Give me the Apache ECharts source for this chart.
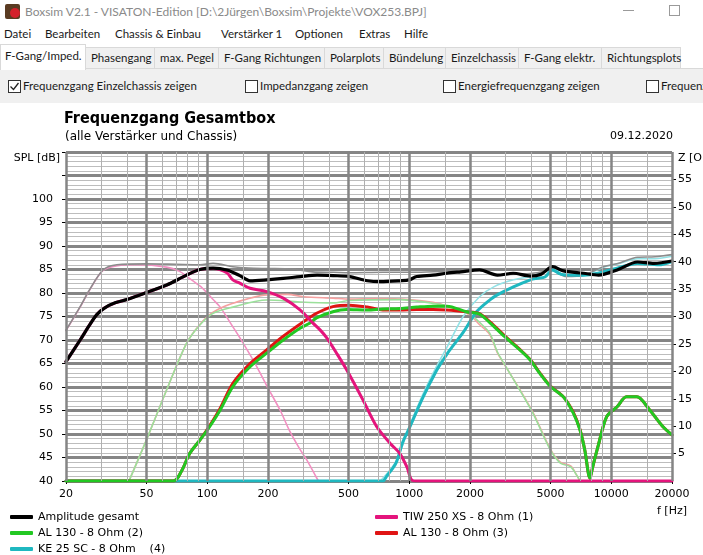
<!DOCTYPE html>
<html><head><meta charset="utf-8">
<script src="https://cdn.jsdelivr.net/npm/echarts@6/dist/echarts.min.js"></script>
<style>
html,body{margin:0;padding:0;width:703px;height:555px;overflow:hidden;background:#fff;}
.a{position:absolute;white-space:nowrap;font-family:Lato,"Noto Sans",sans-serif;font-size:11.5px;color:#1a1a1a;}
.tab{position:absolute;top:47px;height:22px;box-sizing:border-box;background:#f0f0f0;border:1px solid #d9d9d9;border-bottom:none;line-height:20px;padding-left:5px;font-family:Lato,"Noto Sans",sans-serif;font-size:11.5px;color:#1a1a1a;white-space:nowrap;}
.cb{position:absolute;top:80px;width:13px;height:13px;box-sizing:border-box;border:1px solid #333;background:#fff;}
</style></head><body>
<!-- title bar -->
<div class="a" style="left:5px;top:4px;width:15px;height:15px;background:#5a3b22;border-radius:2px;"></div>
<div class="a" style="left:10px;top:8px;width:10px;height:10px;background:#d4202a;border-radius:50%;"></div>
<div class="a" style="left:25px;top:4px;color:#8a8a8a;font-size:12px;">Boxsim V2.1 - VISATON-Edition [D:\2Jürgen\Boxsim\Projekte\VOX253.BPJ]</div>
<div class="a" style="left:623px;top:10px;width:11px;height:1px;background:#9a9a9a;"></div>
<div class="a" style="left:669px;top:5px;width:9px;height:9px;border:1px solid #9a9a9a;"></div>
<!-- menu -->
<div class="a" style="left:4px;top:27px;">Datei</div>
<div class="a" style="left:45px;top:27px;">Bearbeiten</div>
<div class="a" style="left:115px;top:27px;">Chassis &amp; Einbau</div>
<div class="a" style="left:221px;top:27px;">Verstärker 1</div>
<div class="a" style="left:295px;top:27px;">Optionen</div>
<div class="a" style="left:359px;top:27px;">Extras</div>
<div class="a" style="left:404px;top:27px;">Hilfe</div>
<!-- tabs -->
<div class="tab" style="left:85px;width:70px;">Phasengang</div>
<div class="tab" style="left:154px;width:65px;">max. Pegel</div>
<div class="tab" style="left:218px;width:107px;">F-Gang Richtungen</div>
<div class="tab" style="left:324px;width:60px;">Polarplots</div>
<div class="tab" style="left:383px;width:63px;">Bündelung</div>
<div class="tab" style="left:445px;width:74px;">Einzelchassis</div>
<div class="tab" style="left:518px;width:84px;">F-Gang elektr.</div>
<div class="tab" style="left:601px;width:80px;">Richtungsplots</div>
<!-- panel -->
<div class="a" style="left:0;top:68px;width:703px;height:34px;background:#f0f0f0;border-top:1px solid #d9d9d9;border-bottom:1px solid #e2e2e2;"></div>
<div class="tab" style="left:0;top:44px;width:86px;height:26px;background:#fff;line-height:22px;padding-left:4px;">F-Gang/Imped.</div>
<div class="cb" style="left:8px;"><svg width="11" height="11" style="position:absolute;left:0;top:0"><polyline points="1.5,5.5 4.5,8.5 9.5,2" fill="none" stroke="#222" stroke-width="1.3"/></svg></div>
<div class="a" style="left:23px;top:79px;">Frequenzgang Einzelchassis zeigen</div>
<div class="cb" style="left:245px;"></div>
<div class="a" style="left:260px;top:79px;">Impedanzgang zeigen</div>
<div class="cb" style="left:443px;"></div>
<div class="a" style="left:458px;top:79px;">Energiefrequenzgang zeigen</div>
<div class="cb" style="left:646px;"></div>
<div class="a" style="left:661px;top:79px;">Frequenzgang</div>

<div id="chart" style="position:absolute;left:0;top:103px;width:703px;height:480px;background:#fff;"></div>
<script>
// ---- axis ticks / grid ----
const xTicks = [20, 50, 100, 200, 500, 1000, 2000, 5000, 10000, 20000];
const xMajorGrid = [20, 50, 100, 200, 500, 1000, 2000, 5000, 10000, 20000];
const xMinorGrid = [30, 40, 60, 70, 80, 90, 150, 300, 400, 600, 700, 800, 900, 1500, 3000, 4000, 6000, 7000, 8000, 9000, 15000];
const zTicks = [5, 10, 15, 20, 25, 30, 35, 40, 45, 50, 55];

// ---- Amplitude gesamt ----
const totalF  = [20,23.5,26,28.4,31,35,40,50,63,79,92,107,125,145,163,197,238,290,350,420,507,620,720,900,1000,1090,1310,1540,1800,2230,2730,3270,3980,4500,5130,5800,7300,8660,10700,13500,16300,20000];
const totalDb = [65.4,70.0,73.0,75.4,76.8,77.9,78.6,80.1,81.7,83.8,85.0,85.3,84.9,83.7,82.6,82.8,83.1,83.5,83.8,83.7,83.5,82.6,82.4,82.6,82.8,83.5,83.8,84.2,84.5,84.9,83.8,84.2,83.6,84.0,85.6,84.7,84.2,83.8,84.9,86.6,86.3,86.8];
// ---- raw total (grey) ----
const rawTotalF  = [20,23.5,26,30.5,35.7,50,70,92,107,134,160,197,260,333,420,507,740,1090,1500,2230,2730,3500,4300,5000,6000,7300,9150,11000,13500,16500,20000];
const rawTotalDb = [72.1,77.1,80.5,84.9,86.0,86.2,86.1,86.0,86.3,85.6,85.3,85.2,85.1,84.5,84.4,84.3,84.4,84.4,84.6,85.0,83.8,84.0,84.3,84.9,83.5,83.8,85.6,86.4,87.6,87.7,88.2];
// ---- TIW 250 XS (1) ----
const tiwF  = [20,23.5,26,28.4,31,35,40,50,63,79,92,107,125,134,145,163,197,238,288,334,363,390,440,491,591,690,805,897,974,1030,1100,20000];
const tiwDb = [65.4,70.0,73.0,75.4,76.8,77.9,78.6,80.1,81.7,83.8,85.0,85.2,84.3,82.8,82.1,81.0,80.3,78.9,76.4,73.6,72.1,70.5,67.0,63.6,57.2,51.6,48.0,45.9,43.0,40.2,40.0,40.0];
const tiwRawF  = [20,23.5,26,30.5,36,45,63,73,80,92,100,107,116,134,145,170,197,230,257,290,311,355];
const tiwRawDb = [72.0,77.0,80.4,84.8,85.8,86.0,85.5,84.6,83.4,81.5,80.0,78.6,77.0,72.8,70.5,65.5,60.3,55.0,50.5,46.5,44.5,40.0];
// ---- AL 130 (2) ----
const al2F  = [20,68,75,82,92,103,116,134,163,197,238,288,323,348,419,491,620,740,900,1090,1310,1540,1920,2230,2520,2970,3530,3980,4430,5000,5800,6500,7000,7400,7850,8100,8600,9500,10700,11900,13400,15500,18000,20000];
const al2Db = [40,40,42.3,45.9,48.7,51.6,55.1,60.1,64.3,67.2,70.0,72.5,73.6,74.7,76.0,76.5,76.4,76.6,76.7,77.0,77.2,77.2,76.0,75.5,73.6,70.7,67.9,65.7,62.9,60.1,57.9,54.4,50.9,46.6,40.6,43.0,47.3,53.7,55.8,57.9,57.9,55.1,51.6,49.8];
const al2RawF  = [41,50,63,79,92,107,134,197,288,419,507,900,1310,1590,2000,2200,2500,2730,2900,3400,4100,5000,5600,6300,6800,7000];
const al2RawDb = [40.0,48.7,59.4,69.3,73.2,75.7,77.0,78.5,78.1,77.9,78.4,78.6,77.8,77.1,75.5,74.0,71.5,67.5,65.5,60.5,54.4,46.6,43.8,43.0,41.0,40.0];
// ---- AL 130 (3) ----
const al3F  = [20,68,75,82,92,103,116,134,163,197,238,300,348,419,507,620,740,900,1090,1310,1540,1920,2230,2520,2970,3530,3980,4430,5000,5800,6500,7000,7400,7850,8100,8600,9500,10700,11900,13400,15500,18000,20000];
const al3Db = [40,40,42.3,45.9,48.7,51.8,55.5,60.8,65.0,67.9,70.8,73.9,75.7,77.1,77.4,77.0,76.4,76.4,76.5,76.5,76.4,76.0,75.6,73.8,70.9,68.0,65.8,63.0,60.2,57.9,54.6,51.0,46.6,40.6,43.0,47.3,53.7,55.8,57.9,57.9,55.1,51.6,49.8];
const al3RawF  = [41,50,63,79,92,107,134,197,250,300,420,507,700,1000,1310,1590,2000,2200,2500,2730,2900,3400,4100,5000,5600,6300,6800,7000];
const al3RawDb = [40.0,48.7,59.4,69.3,73.3,75.9,77.8,79.6,79.7,79.2,78.9,78.7,78.8,78.6,78.0,77.0,75.3,73.5,71.2,67.3,65.4,60.6,54.6,46.8,44.0,43.2,41.0,40.0];
// ---- KE 25 SC (4) ----
const keF  = [20,740,770,860,930,1000,1170,1370,1470,1590,1850,2155,2520,2730,3280,3980,4270,4700,5130,5500,5800,7300,8600,10700,13500,17200,20000];
const keDb = [40,40,40.9,43.8,48.3,51.2,57.8,63.6,65.7,67.9,71.6,76.0,78.6,79.6,81.3,82.8,83.1,83.4,84.9,84.2,83.9,83.8,84.2,85.3,86.3,86.0,86.7];
const keRawF  = [720,860,1000,1170,1370,1540,1850,2230,2620,3280,3980,4700,5130,5800,7300,9150,11000,13500,16500,20000];
const keRawDb = [40.0,44.2,51.5,58.5,64.5,68.5,75.0,79.2,81.3,82.8,83.5,84.5,85.2,84.0,83.8,85.5,86.3,87.3,87.3,87.8];

const zip = (f, v) => f.map((x, i) => [x, v[i]]);
const FONT = 'DejaVu Sans';
function mk(name, f, v, color, width) {
  return {type:'line', name:name, data:zip(f, v), showSymbol:false, symbol:'none', smooth:0.3,
    lineStyle:{color:color, width:width, cap:'round', join:'round'}, itemStyle:{color:color},
    emphasis:{disabled:true}, silent:true, clip:true};
}
const N_TOT = 'Amplitude gesamt', N1 = 'TIW 250 XS - 8 Ohm (1)', N2 = 'AL 130 - 8 Ohm (2)', N3 = 'AL 130 - 8 Ohm (3)', N4 = 'KE 25 SC - 8 Ohm    (4)';

const gridLines = [];
xMajorGrid.forEach(v => gridLines.push({xAxis:v, lineStyle:{color:'#858585', width:2.5, type:'solid'}}));
xMinorGrid.forEach(v => gridLines.push({xAxis:v, lineStyle:{color:'#b0b0b0', width:1, type:'solid'}}));

const chart = echarts.init(document.getElementById('chart'));
chart.setOption({
  animation:false,
  textStyle:{fontFamily:FONT},
  title:[
    {text:'Frequenzgang Gesamtbox', left:64, top:8, padding:0,
     textStyle:{fontFamily:'"DejaVu Sans Condensed","DejaVu Sans"', fontWeight:'bold', fontSize:16, color:'#000'}},
    {text:'(alle Verstärker und Chassis)', left:65, top:28, padding:0,
     textStyle:{fontFamily:FONT, fontWeight:'normal', fontSize:12, color:'#000'}},
    {text:'09.12.2020', right:30, top:28, padding:0,
     textStyle:{fontFamily:FONT, fontWeight:'normal', fontSize:11, color:'#000'}}
  ],
  grid:{left:66, top:49, width:606, height:329, containLabel:false, outerBoundsMode:'none'},
  legend:[
    {orient:'vertical', left:10, top:407, height:60, padding:0, itemGap:2, itemWidth:23, itemHeight:4, icon:'roundRect', selectedMode:false,
     textStyle:{fontFamily:FONT, fontSize:11, color:'#000', lineHeight:14},
     data:[N_TOT, N2, N4]},
    {orient:'vertical', left:375, top:407, height:60, padding:0, itemGap:2, itemWidth:23, itemHeight:4, icon:'roundRect', selectedMode:false,
     textStyle:{fontFamily:FONT, fontSize:11, color:'#000', lineHeight:14},
     data:[N1, N3]}
  ],
  xAxis:{type:'log', logBase:10, min:20, max:20000,
    name:'f [Hz]', nameLocation:'end', nameGap:0,
    nameTextStyle:{fontFamily:FONT, fontSize:11, color:'#000', align:'center', verticalAlign:'top', padding:[25,0,0,0]},
    axisLine:{show:false},
    axisTick:{show:true, customValues:xTicks, length:3, lineStyle:{color:'#000'}},
    axisLabel:{customValues:xTicks, margin:8, fontSize:11, color:'#000', formatter:v => String(Math.round(v))},
    splitLine:{show:false}, minorTick:{show:false}, minorSplitLine:{show:false}},
  yAxis:[
    {type:'value', min:40, max:110, interval:5, position:'left',
     name:'SPL [dB]', nameLocation:'end', nameGap:-6,
     nameTextStyle:{fontFamily:FONT, fontSize:11, color:'#000', align:'right', verticalAlign:'middle', padding:[0,6,0,0]},
     axisLine:{show:false},
     axisTick:{show:true, length:4, lineStyle:{color:'#000'}},
     axisLabel:{margin:13, fontSize:11, color:'#000', formatter:v => (v <= 100 ? String(v) : '')},
     splitLine:{show:true, lineStyle:{color:'#858585', width:3}},
     minorTick:{show:false, splitNumber:5},
     minorSplitLine:{show:true, lineStyle:{color:'#bdbdbd', width:1}}},
    {type:'value', min:0, max:60, interval:5, position:'right',
     name:'Z [Ohm]', nameLocation:'end', nameGap:-6,
     nameTextStyle:{fontFamily:FONT, fontSize:11, color:'#000', align:'left', verticalAlign:'middle', padding:[0,0,0,6]},
     axisLine:{show:false},
     axisTick:{show:true, length:4, customValues:zTicks, lineStyle:{color:'#000'}},
     axisLabel:{margin:6, fontSize:11, color:'#000', customValues:zTicks, formatter:v => String(v)},
     splitLine:{show:false}}
  ],
  series:[
    {type:'line', name:'_grid', data:[[20,40]], symbol:'none', showSymbol:false, silent:true, lineStyle:{width:0, opacity:0},
     markLine:{silent:true, symbol:['none','none'], label:{show:false}, animation:false, emphasis:{disabled:true}, data:gridLines}},
    mk('TIW raw', tiwRawF, tiwRawDb, '#f290c2', 1.6),
    mk('AL3 raw', al3RawF, al3RawDb, '#f5a0a0', 1.6),
    mk('AL2 raw', al2RawF, al2RawDb, '#9be09b', 1.6),
    mk('KE raw', keRawF, keRawDb, '#93e2e6', 1.6),
    mk('Gesamt raw', rawTotalF, rawTotalDb, '#8c8c8c', 1.6),
    mk(N4, keF, keDb, '#1fb8c0', 3),
    mk(N3, al3F, al3Db, '#e01414', 3),
    mk(N2, al2F, al2Db, '#22c822', 3),
    mk(N1, tiwF, tiwDb, '#e4147c', 3),
    mk(N_TOT, totalF, totalDb, '#000000', 3.2)
  ]
});
</script>
</body></html>
